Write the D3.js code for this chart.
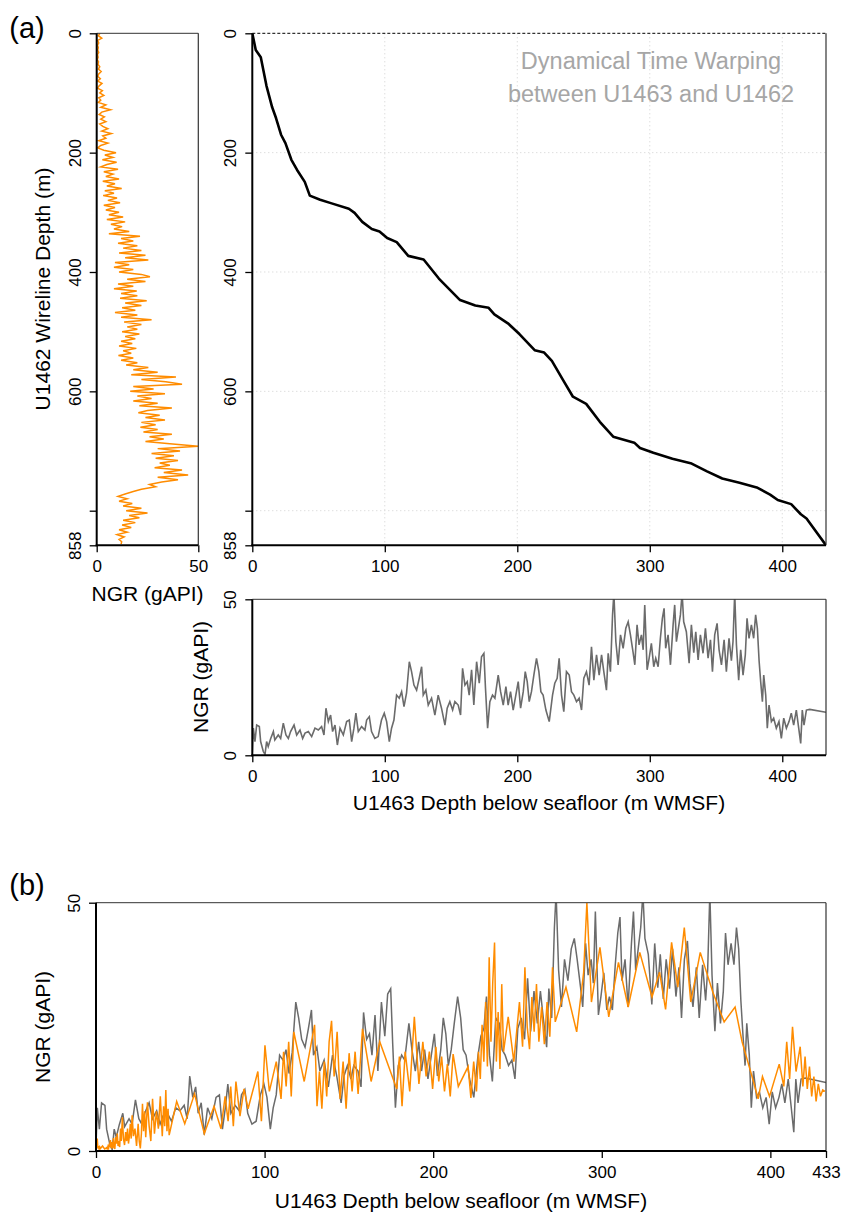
<!DOCTYPE html>
<html>
<head>
<meta charset="utf-8">
<script src="https://cdn.jsdelivr.net/npm/d3@7"></script>
<style>
  body { margin: 0; background: #fff; }
  text { font-family: "Liberation Sans", Arial, sans-serif; fill: #000; }
</style>
</head>
<body>
<svg id="chart" width="842" height="1213"></svg>
<script>
// U1462 wireline NGR, read every 4 m of depth (0 - 856 m)
const u1462Step = 4;
const u1462NGR = [
  1.6, 0.8, 2.5, 0.5, 1.0, 0.4,
  0.8, 0.5, 1.0, 0.4, 0.7, 0.3, 0.9,
  0.6, 1.5, 0.8, 2.2, 1.0, 0.5, 1.8,
  0.5, 2.6, 1.2, 0.4, 2.8, 1.5,
  3.5, 1.0, 2.0, 0.8, 4.5, 2.0, 6.8,
  2.5, 1.2, 3.8, 2.0, 4.5, 1.5, 3.0,
  5.5, 2.5, 7.2, 3.0,
  4.5, 1.0, 5.5, 2.0, 0.5, 3.5,
  9.5, 4.0, 8.0, 2.8, 9.8,
  5.0, 2.0, 10.5, 3.5, 8.0, 4.5, 11.0,
  3.0, 9.0, 5.0, 12.3, 4.0, 8.5, 3.2,
  10.0, 5.5, 11.5, 3.5, 9.0, 4.5, 11.0, 6.0,
  13.0, 5.0, 14.0, 7.0, 12.5, 8.5,
  16.0, 6.0, 21.3, 12.0, 18.0, 10.5,
  20.0, 13.0, 22.0, 11.0, 24.0, 14.0, 25.4,
  9.0, 16.0, 8.5, 18.0,
  11.0, 22.0, 26.2, 15.0, 24.0, 10.5,
  18.0, 8.5, 19.7, 12.0,
  20.0, 11.5, 24.6, 14.0, 22.0, 12.5, 19.0,
  9.0, 20.0, 12.0, 27.0, 13.5, 22.0, 15.0,
  20.0, 12.5, 21.0, 14.0, 19.0, 12.0, 17.5,
  11.0, 19.5, 13.0, 17.0, 10.7, 18.0, 12.0,
  20.0, 14.5, 25.4, 18.0,
  30.0, 17.0, 39.0, 22.0, 34.0, 42.0,
  18.0, 28.0, 16.5, 33.6, 20.0, 27.0,
  18.0, 30.0, 21.0, 37.0, 25.0,
  20.5, 31.0, 24.0, 33.6, 22.0, 29.0, 21.5,
  30.0, 23.0, 37.0, 26.0, 33.0, 24.0, 36.0,
  50.0, 30.0, 41.0, 27.0, 38.0, 29.0, 40.0, 31.0,
  36.0, 28.5, 42.0, 33.0, 45.0, 30.0, 40.0, 32.0, 26.0,
  29.0, 22.0, 18.0, 14.0,
  10.5, 15.0, 11.0, 17.5,
  13.0, 22.0, 14.5, 25.0, 16.0, 21.0, 13.0, 19.0, 12.5,
  17.0, 11.0, 15.0, 10.0, 13.5, 11.0, 12.3, 12.0
];
const u1462Depth = u1462NGR.map((v, i) => i * u1462Step);

// U1463 NGR: [depth m WMSF, gAPI]
const u1463 = [
  [0,1],[0.8,8.7],[2,4.4],[3.3,9.7],[5.3,9.2],[6.3,4.4],[8.3,1.2],[9.6,0.3],[10.8,4.4],[12,2.8],
  [13.9,5.4],[15.9,7.6],[17,4.9],[19.6,6.5],[21.4,5.4],[23.4,10.3],[25.4,6.5],[27.2,5.4],[28.9,7.6],
  [31.5,9.7],[33.5,6.5],[36,8.1],[38,5.4],[39.8,7.1],[42.3,7.6],[44.8,6],[47.3,8.7],[49.8,8.1],
  [52.3,9.2],[54.1,6.5],[55.6,15.1],[57.4,10.8],[59.1,12.9],[60.6,7.6],[62.4,9.7],[64.2,3.3],
  [66.2,8.7],[68.7,6.5],[71.2,10.8],[73.2,11.3],[75,4.4],[76.7,8.7],[78.2,13.5],[80,7.6],[82.5,9.2],
  [85,8.1],[86.3,11.3],[88.3,12.4],[90,7.6],[92.5,5.4],[95,6],[97.5,11.3],[99.6,13.5],[101.4,10.8],
  [103.4,4.4],[105.1,8.7],[106.9,11.3],[108.9,19.3],[110.9,18.3],[112.7,20.4],[114.5,15.6],
  [116.4,19.9],[118.5,30],[120.2,26.8],[122,22.5],[124,20.9],[126,24.7],[127.8,28.4],[129,19.3],
  [131,20.9],[132.8,16.1],[135.3,18.3],[137.8,12.9],[140.3,19.3],[142.8,15.1],[145.4,9.7],
  [147.1,15.1],[149.1,17.2],[151.2,14.5],[152.9,17.2],[155.4,16.1],[157.2,12.9],[158.7,27.9],
  [160.5,22.5],[162.2,23.6],[163.7,19.3],[165.5,27.4],[167.2,16.1],[169.3,30],[171.3,23.1],
  [173,31.6],[174.8,32.7],[176,21.5],[177.6,8.7],[179.3,17.2],[181.3,19.3],[183.1,18.3],
  [185.6,25.7],[187.4,20.4],[189.4,16.1],[191.4,22],[193.1,16.1],[194.9,20.4],[196.9,14.5],
  [198.9,19.3],[200.7,23.6],[202.5,15.1],[204.5,20.4],[206,26.8],[207.5,23.6],[209,17.2],
  [210.7,20.4],[212.5,25.7],[214.5,31.1],[216.3,26.8],[217.8,20.4],[219.5,19.3],[221.6,14.5],
  [224.1,10.8],[226.6,19.3],[228.3,23.1],[230.1,24.7],[231.6,31.1],[233.4,19.3],[235.1,14],
  [237.1,26.8],[239.2,25.7],[240.9,20.4],[242.7,19.3],[244.7,17.2],[246.7,18.3],[248.5,14.5],
  [250.2,24.7],[252.2,26.8],[254.2,22.5],[256,34.8],[257.8,24.1],[259.8,32.2],[261.8,25.7],
  [263.6,32.2],[265.3,26.8],[267.3,20.9],[268.6,32.7],[270.3,26.8],[271.9,45],[272.9,52],
  [274.4,36.4],[276.1,29],[277.9,38.6],[279.9,34.3],[281.9,40.7],[283.7,42.8],[285.4,38.6],
  [287.4,33],[288.7,29],[290.4,41.8],[291.9,35.4],[293.7,38.6],[295,33.8],[296.2,48.2],[298,27.4],
  [299.5,31.1],[301.2,35.9],[303,28.4],[304.5,31.1],[306.3,28.4],[308,37.5],[309.5,43.9],
  [310.8,47.1],[312,34.3],[313.8,38.6],[315.6,29],[317.6,41.8],[318.8,48.2],[320.1,36.4],
  [321.6,40.7],[323.1,45],[324.4,52],[325.6,42.8],[327.6,39.6],[329.7,29.5],[331.4,41.8],
  [333.2,32.9],[334.7,39.6],[336.5,30.6],[338.2,38.6],[340.2,32.7],[342,40.7],[344,31.1],
  [345.8,37],[347.3,26.8],[349,38.6],[350.8,42.3],[352.3,33.8],[354.1,29],[356.1,37],[357.8,26.8],
  [359.8,37.5],[361.6,30.3],[362.8,36.4],[364.1,52],[365.4,35.4],[367.1,24.1],[368.6,33.8],
  [370.4,25.7],[372.1,32.2],[373.4,43.9],[374.9,37.5],[376.7,41.8],[378.4,37.5],[379.9,45],
  [381.2,40.7],[382.5,30.3],[383.7,23.6],[385,17.2],[386,25.7],[387.5,19.3],[388.7,8.7],[390,16.1],
  [391.8,10.8],[393.5,11.9],[395.5,8.7],[397.5,10.8],[399.3,5.4],[401.1,11.9],[403.1,8.7],
  [405.1,10.8],[406.8,13.5],[408.6,9.7],[410.6,14.5],[412.4,8.7],[413.9,3.8],[415.1,14.5],
  [416.4,9.7],[418.2,14.5],[420.7,14.7],[433,13.8]
];

// DTW warping path: U1463 depth -> U1462 depth
const warpU1463 = [0, 2.6, 6.4, 10.7, 15, 17.9, 21.7, 25, 29.5, 33.8, 39.6, 43.4, 51.2, 59.9, 72.9,
  77.2, 83, 90.2, 96, 101.8, 109, 117.7, 129.3, 140.8, 156.8, 168.3, 178.4, 182.7, 192.9, 201.6,
  213.1, 220.3, 226.1, 234.8, 242, 252, 262.3, 272.4, 288.3, 292.6, 302.7, 317.1, 331.6, 343.2,
  354.7, 367.7, 380.7, 390.8, 396.6, 406.7, 414, 418.3, 433];
const warpU1462 = [0, 28, 40, 88, 124, 142, 170, 184, 212, 229, 249, 272, 279, 285, 294,
  301, 316, 328, 332, 343, 350, 373, 379, 411, 447, 456, 460, 471, 486, 504,
  531, 535, 549, 582, 609, 621, 651, 676, 686, 695, 703, 713, 721, 734,
  746, 753, 761, 773, 782, 789, 806, 813, 858];

const depthTicks = [0, 200, 400, 600, 800, 858];
const depthTickLabels = ["0", "200", "400", "600", "", "858"];
const u1463Ticks = [0, 100, 200, 300, 400];
const u1463TicksB = [0, 100, 200, 300, 400, 433];
const ngrTicks = [0, 50];

const ORANGE = "#ff8c00", GREY = "#6b6b6b";
const svg = d3.select("#chart");
const tickFont = 17, labFont = 21;

// scales
const yDepth1462 = d3.scaleLinear().domain([0, 858]).range([33.3, 545.3]);
const xNgrLeft = d3.scaleLinear().domain([0, 50]).range([96.7, 198.3]);
const xDepth1463 = d3.scaleLinear().domain([0, 433]).range([252.3, 826]);
const yNgrA = d3.scaleLinear().domain([0, 50]).range([755.3, 599.3]);
const xDepthB = d3.scaleLinear().domain([0, 433]).range([96, 826]);
const yNgrB = d3.scaleLinear().domain([0, 50]).range([1151, 902.7]);
const warp = d3.scaleLinear().domain(warpU1462).range(warpU1463);

function clip(id, xs, ys) {
  svg.append("clipPath").attr("id", id).append("rect")
    .attr("x", xs.range()[0]).attr("y", d3.min(ys.range()))
    .attr("width", xs.range()[1] - xs.range()[0])
    .attr("height", Math.abs(ys.range()[1] - ys.range()[0]));
}

function frame(xs, ys, dashTop) {
  const x0 = xs.range()[0], x1 = xs.range()[1];
  const y0 = d3.min(ys.range()), y1 = d3.max(ys.range());
  const g = svg.append("g");
  g.append("line").attr("x1", x0).attr("x2", x1).attr("y1", y0).attr("y2", y0)
    .attr("stroke", dashTop ? "#000" : "#333").attr("stroke-width", 1)
    .attr("stroke-dasharray", dashTop ? "3,2" : null);
  g.append("line").attr("x1", x1).attr("x2", x1).attr("y1", y0).attr("y2", y1)
    .attr("stroke", "#333").attr("stroke-width", 1.2);
  g.append("line").attr("x1", x0).attr("x2", x0).attr("y1", y0).attr("y2", y1 + 1)
    .attr("stroke", "#000").attr("stroke-width", 2);
  g.append("line").attr("x1", x0 - 1).attr("x2", x1).attr("y1", y1).attr("y2", y1)
    .attr("stroke", "#000").attr("stroke-width", 2);
}

function yAxis(scale, x, values, labels) {
  const g = svg.append("g").attr("transform", `translate(${x},0)`)
    .call(d3.axisLeft(scale).tickValues(values).tickSize(7).tickFormat((d, i) => labels[i]));
  g.select(".domain").remove();
  g.selectAll(".tick line").attr("stroke", "#000").attr("stroke-width", 1.3);
  g.selectAll(".tick text").attr("transform", "rotate(-90)")
    .attr("x", 0).attr("y", -16).attr("dy", 0).attr("text-anchor", "middle")
    .style("font-size", tickFont + "px");
}

function xAxis(scale, y, values) {
  const g = svg.append("g").attr("transform", `translate(0,${y})`)
    .call(d3.axisBottom(scale).tickValues(values).tickSize(7).tickFormat(d3.format("d")));
  g.select(".domain").remove();
  g.selectAll(".tick line").attr("stroke", "#000").attr("stroke-width", 1.3);
  g.selectAll(".tick text").attr("y", 26.5).attr("dy", 0).style("font-size", tickFont + "px");
}

function label(txt, x, y, size, rotate, color) {
  svg.append("text").text(txt)
    .attr("transform", `translate(${x},${y})` + (rotate ? " rotate(-90)" : ""))
    .attr("text-anchor", "middle").style("font-size", size + "px")
    .style("fill", color || "#000");
}

// ---- (a) left: U1462 NGR vs depth
clip("clipLeft", xNgrLeft, yDepth1462);
svg.append("path")
  .datum(u1462NGR.map((v, i) => [v, u1462Depth[i]]))
  .attr("clip-path", "url(#clipLeft)")
  .attr("fill", "none").attr("stroke", ORANGE).attr("stroke-width", 1.5)
  .attr("d", d3.line().x(d => xNgrLeft(d[0])).y(d => yDepth1462(d[1])));
frame(xNgrLeft, yDepth1462, false);
yAxis(yDepth1462, 96.7, depthTicks, depthTickLabels);
xAxis(xNgrLeft, 545.3, ngrTicks);

// ---- (a) DTW panel
const grid = svg.append("g").attr("stroke", "#cfcfcf").attr("stroke-width", 1).attr("stroke-dasharray", "1,3");
grid.selectAll(".gx").data(u1463Ticks.slice(1)).enter().append("line")
  .attr("x1", d => xDepth1463(d)).attr("x2", d => xDepth1463(d))
  .attr("y1", yDepth1462(0)).attr("y2", yDepth1462(858));
grid.selectAll(".gy").data([200, 400, 600, 800]).enter().append("line")
  .attr("x1", xDepth1463(0)).attr("x2", xDepth1463(433))
  .attr("y1", d => yDepth1462(d)).attr("y2", d => yDepth1462(d));

clip("clipDtw", xDepth1463, yDepth1462);
svg.append("path")
  .datum(warpU1463.map((v, i) => [v, warpU1462[i]]))
  .attr("clip-path", "url(#clipDtw)")
  .attr("fill", "none").attr("stroke", "#000").attr("stroke-width", 2.6)
  .attr("stroke-linejoin", "round")
  .attr("d", d3.line().x(d => xDepth1463(d[0])).y(d => yDepth1462(d[1])));
frame(xDepth1463, yDepth1462, true);
yAxis(yDepth1462, 252.3, depthTicks, depthTickLabels);
xAxis(xDepth1463, 545.3, u1463Ticks);
label("Dynamical Time Warping", 651, 69, 23.5, false, "#a6a6a6");
label("between U1463 and U1462", 651, 102, 23.5, false, "#a6a6a6");

// ---- (a) bottom: U1463 NGR
clip("clipNgrA", xDepth1463, yNgrA);
svg.append("path").datum(u1463)
  .attr("clip-path", "url(#clipNgrA)")
  .attr("fill", "none").attr("stroke", GREY).attr("stroke-width", 1.6)
  .attr("d", d3.line().x(d => xDepth1463(d[0])).y(d => yNgrA(d[1])));
frame(xDepth1463, yNgrA, false);
yAxis(yNgrA, 252.3, ngrTicks, ["0", "50"]);
xAxis(xDepth1463, 755.3, u1463Ticks);

// ---- (b) overlay
clip("clipB", xDepthB, yNgrB);
svg.append("path").datum(u1463)
  .attr("clip-path", "url(#clipB)")
  .attr("fill", "none").attr("stroke", GREY).attr("stroke-width", 1.5)
  .attr("d", d3.line().x(d => xDepthB(d[0])).y(d => yNgrB(d[1])));
svg.append("path")
  .datum(u1462NGR.map((v, i) => [warp(u1462Depth[i]), v]))
  .attr("clip-path", "url(#clipB)")
  .attr("fill", "none").attr("stroke", ORANGE).attr("stroke-width", 1.5)
  .attr("d", d3.line().x(d => xDepthB(d[0])).y(d => yNgrB(d[1])));
frame(xDepthB, yNgrB, false);
yAxis(yNgrB, 96, ngrTicks, ["0", "50"]);
xAxis(xDepthB, 1151, u1463TicksB);

// ---- labels
label("(a)", 27, 38, 29);
label("(b)", 27, 895, 29);
label("U1462 Wireline Depth (m)", 50, 289, labFont, true);
label("NGR (gAPI)", 147.5, 601, labFont);
label("NGR (gAPI)", 208, 677, labFont, true);
label("U1463 Depth below seafloor (m WMSF)", 539, 810, labFont);
label("NGR (gAPI)", 50, 1027, labFont, true);
label("U1463 Depth below seafloor (m WMSF)", 461, 1208, labFont);
</script>
</body>
</html>
